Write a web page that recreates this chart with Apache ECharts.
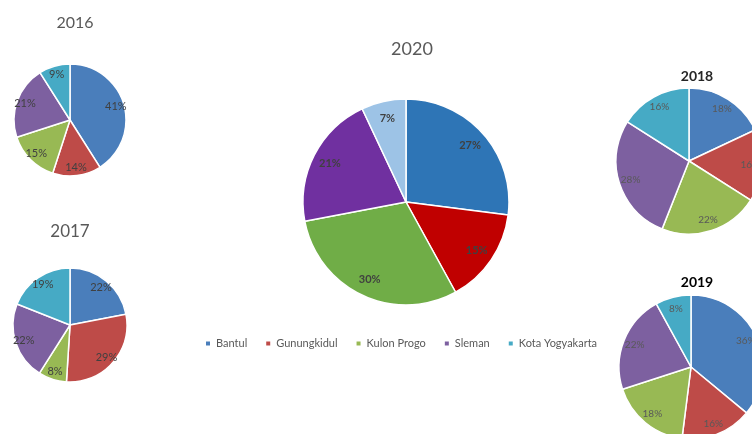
<!DOCTYPE html>
<html>
<head>
    <meta charset="utf-8">
    <title>Pie per year</title>
    <script src="https://cdn.jsdelivr.net/npm/echarts@6/dist/echarts.min.js"></script>
    <style>
        html, body { margin: 0; padding: 0; background: #fff; }
        #main { width: 752px; height: 434px; }
    </style>
</head>
<body>
<div id="main"></div>
<script>
    // data (percent)
    var names = ['Bantul', 'Gunungkidul', 'Kulon Progo', 'Sleman', 'Kota Yogyakarta'];
    var v2016 = [41, 14, 15, 21, 9];
    var v2017 = [22, 29, 8, 22, 19];
    var v2018 = [18, 16, 22, 28, 16];
    var v2019 = [36, 16, 18, 22, 8];
    var v2020 = [27, 15, 30, 21, 7];

    var smallColors = ['#4a7ebb', '#be4b48', '#98b954', '#7d60a0', '#46aac5'];
    var bigColors = ['#2e75b6', '#c00000', '#70ad47', '#7030a0', '#9dc3e6'];

    // one visible pie + one transparent ring that carries the labels at ~0.8r
    function makePie(values, center, r, colors, lbl) {
        var data = values.map(function (v, i) {
            return { name: names[i], value: v, itemStyle: { color: colors[i] } };
        });
        var labelData = values.map(function (v, i) {
            return { name: names[i], value: v };
        });
        return [{
            type: 'pie',
            center: center,
            radius: [0, r],
            startAngle: 90,
            clockwise: true,
            silent: true,
            label: { show: false },
            labelLine: { show: false },
            itemStyle: { borderColor: '#fff', borderWidth: 1.5 },
            data: data
        }, {
            type: 'pie',
            center: center,
            radius: [r * 0.6, r],
            startAngle: 90,
            clockwise: true,
            silent: true,
            legendHoverLink: false,
            itemStyle: { color: 'rgba(0,0,0,0)', borderWidth: 0 },
            label: {
                show: true,
                position: 'inside',
                formatter: '{c}%',
                color: lbl.color,
                fontSize: lbl.size,
                fontWeight: lbl.weight,
                fontFamily: 'Lato'
            },
            labelLine: { show: false },
            data: labelData
        }];
    }

    var lblSmall = { color: '#404040', size: 11, weight: 'normal' };
    var lblRight = { color: '#595959', size: 10, weight: 'normal' };
    var lblBig = { color: '#404040', size: 11, weight: 'bold' };

    var series = [].concat(
        makePie(v2016, [70, 120], 56, smallColors, lblSmall),
        makePie(v2017, [70, 325], 57, smallColors, lblSmall),
        makePie(v2020, [406, 202], 103, bigColors, lblBig),
        makePie(v2018, [689, 161], 73, smallColors, lblRight),
        makePie(v2019, [691, 367], 72, smallColors, lblRight)
    );

    var chart = echarts.init(document.getElementById('main'));
    chart.setOption({
        animation: false,
        title: [
            { text: '2016', left: 70, top: 10, textAlign: 'center',
              textStyle: { fontSize: 16, fontWeight: 'normal', color: '#595959', fontFamily: 'Lato' } },
            { text: '2017', left: 65, top: 218, textAlign: 'center',
              textStyle: { fontSize: 17, fontWeight: 'normal', color: '#595959', fontFamily: 'Lato' } },
            { text: '2020', left: 407, top: 35, textAlign: 'center',
              textStyle: { fontSize: 18, fontWeight: 'normal', color: '#595959', fontFamily: 'Lato' } },
            { text: '2018', left: 692, top: 64, textAlign: 'center',
              textStyle: { fontSize: 14, fontWeight: 'bold', color: '#262626', fontFamily: 'Lato' } },
            { text: '2019', left: 692, top: 270, textAlign: 'center',
              textStyle: { fontSize: 14, fontWeight: 'bold', color: '#000', fontFamily: 'Lato' } }
        ],
        legend: {
            left: 199,
            top: 333,
            icon: 'rect',
            itemWidth: 6,
            itemHeight: 6,
            itemGap: 17,
            textStyle: { fontSize: 11, color: '#595959', fontFamily: 'Lato' },
            data: names
        },
        series: series
    });
</script>
</body>
</html>
